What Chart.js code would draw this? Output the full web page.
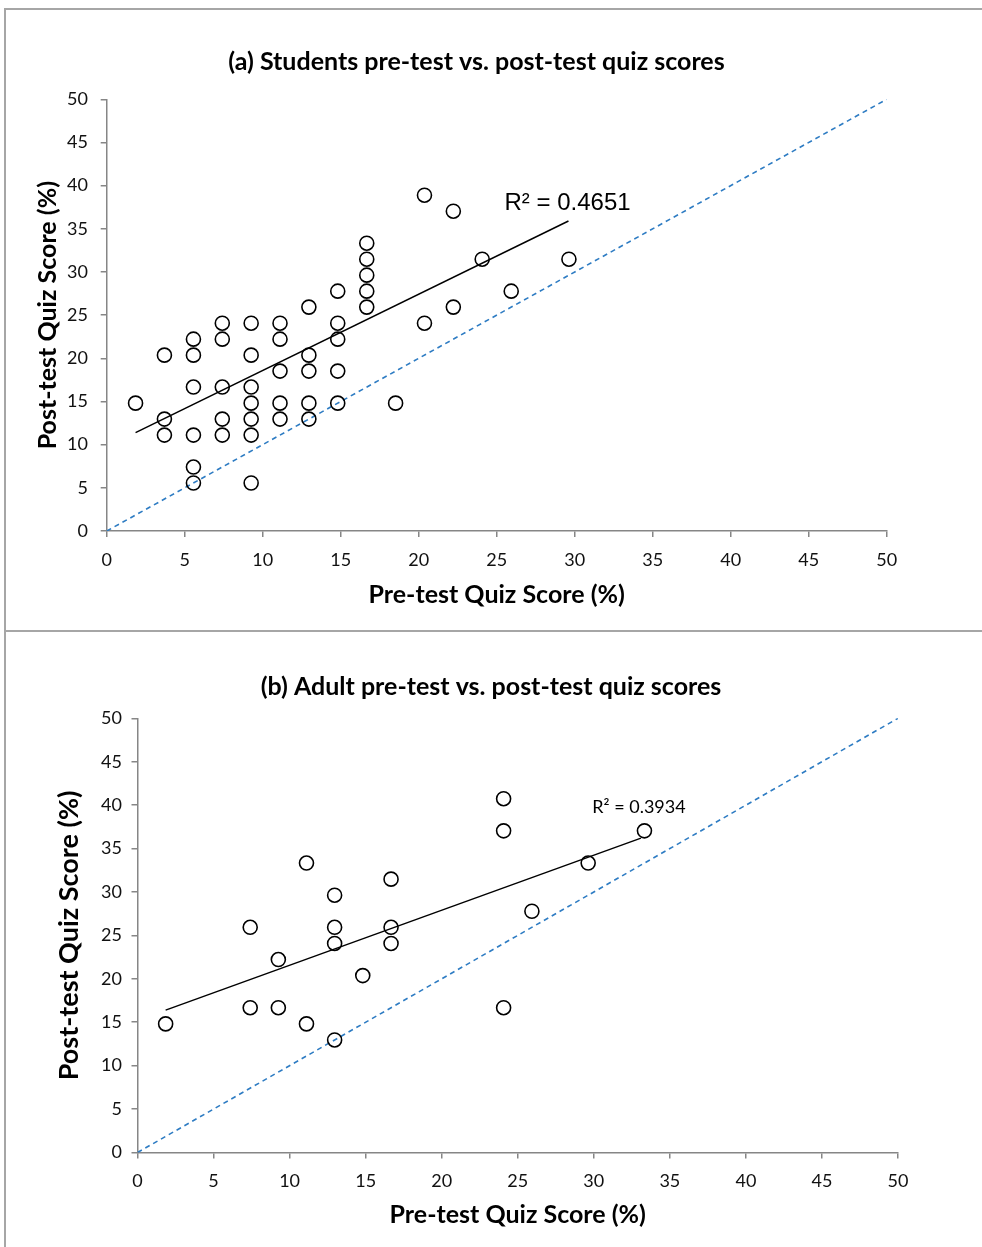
<!DOCTYPE html>
<html>
<head>
<meta charset="utf-8">
<script src="https://cdn.jsdelivr.net/npm/chart.js@4.4.0/dist/chart.umd.min.js"></script>
<style>
body { margin: 0; background: #fff; width: 982px; height: 1247px; overflow: hidden; position: relative; }
.frame { position: absolute; border-left: 2px solid #a6a6a6; border-top: 2px solid #a6a6a6; }
canvas { position: absolute; }
</style>
</head>
<body>
<div class="frame" style="left:4px; top:8px; width:990px; height:622px;"></div>
<div class="frame" style="left:4px; top:630px; width:990px; height:700px;"></div>
<canvas id="chartA" width="953" height="632" style="left:0; top:0;"></canvas>
<canvas id="chartB" width="982" height="615" style="left:0; top:632px;"></canvas>
<script>
// 軸の目盛り
const tickValues = [0, 5, 10, 15, 20, 25, 30, 35, 40, 45, 50];

// (a) 学生: 事前テスト / 事後テスト (%)
const preA = [1.85,
    3.70, 3.70, 3.70,
    5.56, 5.56, 5.56, 5.56, 5.56, 5.56,
    7.41, 7.41, 7.41, 7.41, 7.41,
    9.26, 9.26, 9.26, 9.26, 9.26, 9.26, 9.26,
    11.11, 11.11, 11.11, 11.11, 11.11,
    12.96, 12.96, 12.96, 12.96, 12.96,
    14.81, 14.81, 14.81, 14.81, 14.81,
    16.67, 16.67, 16.67, 16.67, 16.67,
    18.52, 20.37, 20.37, 22.22, 22.22, 24.07, 25.93, 29.63];
const postA = [14.81,
    20.37, 12.96, 11.11,
    22.22, 20.37, 16.67, 11.11, 7.41, 5.56,
    24.07, 22.22, 16.67, 12.96, 11.11,
    24.07, 20.37, 16.67, 14.81, 12.96, 11.11, 5.56,
    24.07, 22.22, 18.52, 14.81, 12.96,
    25.93, 20.37, 18.52, 14.81, 12.96,
    27.78, 24.07, 22.22, 18.52, 14.81,
    33.33, 31.48, 29.63, 27.78, 25.93,
    14.81, 38.89, 24.07, 37.04, 25.93, 31.48, 27.78, 31.48];
const trendA_x = [1.85, 29.6];
const trendA_y = [11.4, 35.9];

// (b) 成人: 事前テスト / 事後テスト (%)
const preB = [1.85, 7.41, 7.41, 9.26, 9.26, 11.11, 11.11, 12.96, 12.96, 12.96, 12.96,
    14.81, 16.67, 16.67, 16.67, 24.07, 24.07, 24.07, 25.93, 29.63, 33.33];
const postB = [14.81, 25.93, 16.67, 22.22, 16.67, 33.33, 14.81, 29.63, 25.93, 24.07, 12.96,
    20.37, 31.48, 25.93, 24.07, 40.74, 37.04, 16.67, 27.78, 33.33, 37.04];
const trendB_x = [1.85, 33.1];
const trendB_y = [16.4, 36.2];

// 対角線 (事前 = 事後)
const diagonal = [0, 50];

const toPoints = (xs, ys) => xs.map((x, i) => ({ x: x, y: ys[i] }));

const axisGray = '#868686';
const fontFamily = 'Lato, "Open Sans", sans-serif';

// R² ラベル描画プラグイン
const r2Label = {
    id: 'r2Label',
    afterDatasetsDraw(chart, args, opts) {
        const { ctx, scales } = chart;
        ctx.save();
        ctx.font = opts.font;
        ctx.fillStyle = '#000';
        ctx.textBaseline = 'middle';
        ctx.textAlign = 'left';
        ctx.fillText(opts.text, scales.x.getPixelForValue(opts.x), scales.y.getPixelForValue(opts.y));
        ctx.restore();
    }
};

function makeChart(id, cfg) {
    const data = {
        datasets: [
            {
                type: 'scatter',
                data: toPoints(cfg.pre, cfg.post),
                pointStyle: 'circle',
                pointRadius: 7,
                pointBorderWidth: 1.6,
                pointBorderColor: '#000',
                pointBackgroundColor: 'rgba(0,0,0,0)',
                order: 0
            },
            {
                type: 'line',
                data: toPoints(cfg.trendX, cfg.trendY),
                borderColor: '#000',
                borderWidth: 1.5,
                pointRadius: 0,
                order: 1
            },
            {
                type: 'line',
                data: toPoints(diagonal, diagonal),
                borderColor: '#2E7CC3',
                borderWidth: 1.6,
                borderDash: [5, 4],
                pointRadius: 0,
                order: 2
            }
        ]
    };

    const tickFont = { family: fontFamily, size: 18 };

    return new Chart(document.getElementById(id), {
        type: 'scatter',
        data: data,
        plugins: [r2Label],
        options: {
            responsive: false,
            animation: false,
            layout: { padding: 0 },
            scales: {
                x: {
                    type: 'linear',
                    min: 0,
                    max: 50,
                    afterBuildTicks: s => { s.ticks = tickValues.map(v => ({ value: v })); },
                    afterFit: s => { s.height = cfg.xHeight; },
                    ticks: { font: tickFont, color: '#111', padding: cfg.xTickPad, maxRotation: 0 },
                    grid: { drawOnChartArea: false, drawTicks: true, tickLength: 6, color: axisGray, lineWidth: 1.5 },
                    border: { color: axisGray, width: 1.5 },
                    title: {
                        display: true,
                        text: 'Pre-test Quiz Score (%)',
                        color: '#000',
                        font: { family: fontFamily, size: cfg.xTitleSize, weight: 'bold' },
                        padding: { top: 0, bottom: cfg.xTitlePad }
                    }
                },
                y: {
                    type: 'linear',
                    min: 0,
                    max: 50,
                    afterBuildTicks: s => { s.ticks = tickValues.map(v => ({ value: v })); },
                    afterFit: s => { s.width = cfg.yWidth; },
                    ticks: { font: tickFont, color: '#111', padding: cfg.yTickPad },
                    grid: { drawOnChartArea: false, drawTicks: true, tickLength: 6, color: axisGray, lineWidth: 1.5 },
                    border: { color: axisGray, width: 1.5 },
                    title: {
                        display: true,
                        text: 'Post-test Quiz Score (%)',
                        color: '#000',
                        font: { family: fontFamily, size: cfg.yTitleSize, weight: 'bold' },
                        padding: { top: cfg.yTitlePad, bottom: 0 }
                    }
                },
                // 右側の余白用 (何も描かない)
                yRight: {
                    type: 'linear',
                    position: 'right',
                    min: 0,
                    max: 1,
                    afterFit: s => { s.width = cfg.rightSpace; },
                    ticks: { display: false },
                    grid: { display: false },
                    border: { display: false }
                }
            },
            plugins: {
                legend: { display: false },
                tooltip: { enabled: false },
                title: {
                    display: true,
                    text: cfg.title,
                    color: '#000',
                    font: { family: fontFamily, size: 25, weight: 'bold' },
                    padding: { top: cfg.titleTop, bottom: cfg.titleBottom }
                },
                r2Label: cfg.r2
            }
        }
    });
}

// (a) 学生
makeChart('chartA', {
    title: '(a) Students pre-test vs. post-test quiz scores',
    pre: preA, post: postA, trendX: trendA_x, trendY: trendA_y,
    rightSpace: 66.3, xHeight: 101, yWidth: 106.7,
    xTickPad: 12.2, yTickPad: 12.7,
    xTitleSize: 25, xTitlePad: 22,
    yTitleSize: 25, yTitlePad: 33,
    titleTop: 47, titleBottom: 22.3,
    r2: { text: 'R² = 0.4651', x: 25.5, y: 37.9, font: '24px "Liberation Sans", Arial, sans-serif' }
});

// (b) 成人
makeChart('chartB', {
    title: '(b) Adult pre-test vs. post-test quiz scores',
    pre: preB, post: postB, trendX: trendB_x, trendY: trendB_y,
    rightSpace: 84, xHeight: 94.5, yWidth: 137.5,
    xTickPad: 11.7, yTickPad: 9.5,
    xTitleSize: 25, xTitlePad: 17,
    yTitleSize: 27, yTitlePad: 52.8,
    titleTop: 40, titleBottom: 16.3,
    r2: { text: 'R² = 0.3934', x: 29.9, y: 39.8, font: '18px Lato, "Open Sans", sans-serif' }
});
</script>
</body>
</html>
